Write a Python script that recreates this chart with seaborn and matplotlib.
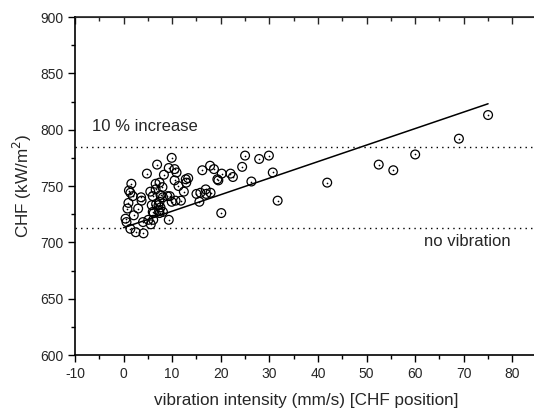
#!/usr/bin/env python3
"""
CHF versus vibration intensity, measured at the CHF position.
"""

import matplotlib
matplotlib.use("Agg")
import matplotlib.pyplot as plt
import pandas as pd
import seaborn as sns
from matplotlib.ticker import MultipleLocator

vib = [
    9.9, 6.9, 4.8, 9.3, 10.5, 10.9, 8.3, 1.6, 6.6, 7.4,
    8.0, 10.5, 11.3, 12.8, 13.3, 12.9, 12.4, 1.1, 1.4, 1.9,
    5.5, 6.0, 3.6, 3.7, 7.6, 8.1, 9.0, 9.5, 9.9, 7.4,
    11.8, 1.0, 0.8, 3.0, 5.8, 7.2, 7.6, 2.1, 6.2, 7.4,
    0.4, 0.6, 4.0, 5.1, 6.1, 9.3, 1.4, 2.5, 4.1, 5.6,
    15.0, 15.8, 16.9, 17.0, 17.9, 15.6, 16.2, 17.8, 18.6, 19.3,
    19.5, 20.2, 22.0, 22.5, 20.1, 24.4, 25.0, 27.9, 29.9, 30.7,
    26.3, 31.7, 41.9, 52.5, 55.5, 60.0, 69.0, 75.0, 6.6, 6.7,
    6.0, 7.3, 8.1, 10.7,
]
chf = [
    775, 769, 761, 766, 765, 762, 760, 752, 752, 753,
    749, 755, 750, 756, 757, 753, 745, 746, 744, 741,
    745, 741, 740, 737, 742, 740, 741, 741, 736, 736,
    737, 735, 730, 730, 733, 733, 731, 724, 726, 726,
    721, 718, 718, 720, 720, 720, 712, 709, 708, 716,
    743, 744, 747, 743, 744, 736, 764, 768, 765, 756,
    755, 761, 761, 758, 726, 767, 777, 774, 777, 762,
    754, 737, 753, 769, 764, 778, 792, 813, 747, 734,
    727, 728, 727, 737,
]

# linear fit end points and reference levels
fit_x = [0, 75]
fit_y = [713, 823]
chf_no_vib = 713
chf_10pct = 784.5

df = pd.DataFrame({"vib": vib, "chf": chf})
fit = pd.DataFrame({"x": fit_x, "y": fit_y})

sns.set_style("ticks")
plt.rcParams["font.family"] = ["Liberation Sans", "DejaVu Sans"]
plt.rcParams["axes.unicode_minus"] = False

fig = plt.figure(figsize=(5.34, 4.16), dpi=100)
ax = fig.add_axes([0.1404, 0.1466, 0.8646, 0.8125])

sns.scatterplot(data=df, x="vib", y="chf", ax=ax, s=40, marker="o",
                facecolor="none", edgecolor="black", linewidth=0.9)
sns.scatterplot(data=df, x="vib", y="chf", ax=ax, s=1.5, marker="o",
                color="black", linewidth=0)
sns.lineplot(data=fit, x="x", y="y", ax=ax, color="black", linewidth=1.1)

ax.axhline(chf_10pct, color="black", linestyle=(0, (1, 3)), linewidth=1)
ax.axhline(chf_no_vib, color="black", linestyle=(0, (1, 3)), linewidth=1)
ax.text(-6.4, 796, "10 % increase", fontsize=12, va="bottom")
ax.text(61.9, 694, "no vibration", fontsize=12, va="bottom")

ax.set_xlim(-10, 85)
ax.set_ylim(600, 900)
ax.xaxis.set_major_locator(MultipleLocator(10))
ax.xaxis.set_minor_locator(MultipleLocator(5))
ax.yaxis.set_major_locator(MultipleLocator(50))
ax.yaxis.set_minor_locator(MultipleLocator(25))
ax.tick_params(which="major", length=5, width=1, labelsize=10, color="black")
ax.tick_params(which="minor", length=3, width=1, color="black")

# top axis with inward ticks, no labels
top = ax.secondary_xaxis("top")
top.xaxis.set_major_locator(MultipleLocator(10))
top.xaxis.set_minor_locator(MultipleLocator(5))
top.tick_params(which="major", direction="in", length=5, width=1, labeltop=False)
top.tick_params(which="minor", direction="in", length=3, width=1)
top.spines["top"].set_linewidth(1.2)

for side in ["left", "bottom"]:
    ax.spines[side].set_linewidth(1.2)
    ax.spines[side].set_color("black")
ax.spines["right"].set_visible(False)

ax.set_xlabel("vibration intensity (mm/s) [CHF position]", fontsize=12.3, labelpad=9)
ax.set_ylabel("CHF (kW/m$^2$)", fontsize=12.3)

fig.savefig("out.png", dpi=100)
